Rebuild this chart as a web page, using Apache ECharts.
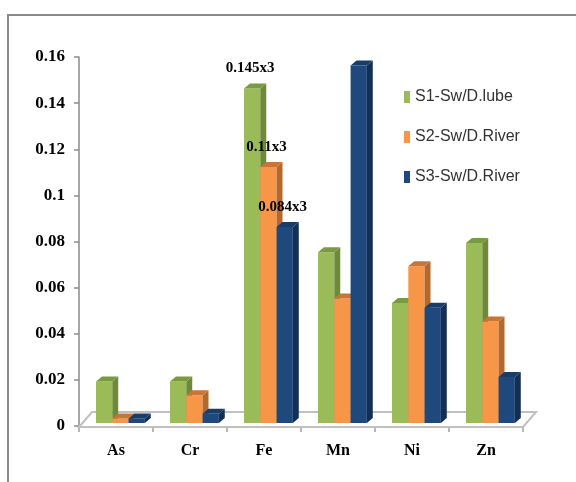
<!DOCTYPE html>
<html>
<head>
<meta charset="utf-8">
<script src="https://cdn.jsdelivr.net/npm/echarts@6/dist/echarts.min.js"></script>
<style>
html,body{margin:0;padding:0;background:#fff;}
#chart{width:576px;height:482px;}
</style>
</head>
<body>
<div id="chart"></div>
<script>
// ---- data ----
var categories = ['As', 'Cr', 'Fe', 'Mn', 'Ni', 'Zn'];
var seriesNames = ['S1-Sw/D.lube', 'S2-Sw/D.River', 'S3-Sw/D.River'];
var s1Values = [0.018, 0.018, 0.145, 0.074, 0.052, 0.078];
var s2Values = [0.002, 0.012, 0.111, 0.054, 0.068, 0.044];
var s3Values = [0.002, 0.004, 0.085, 0.155, 0.050, 0.020];
var s1Labels = ['', '', '0.145x3', '', '', ''];
var s2Labels = ['', '', '0.11x3', '', '', ''];
var s3Labels = ['', '', '0.084x3', '', '', ''];
var yTicks = [0, 0.02, 0.04, 0.06, 0.08, 0.1, 0.12, 0.14, 0.16];

// ---- styles ----
var faceColors = ['#9BBB59', '#F79646', '#1F497D'];
var sideColors = ['#6E8A38', '#B5682C', '#142F55'];
var topColors  = ['#7A9A3F', '#C8753A', '#1A3C68'];

var serifFont = '"Liberation Serif", "Times New Roman", serif';
var narrowFont = '"Liberation Sans Narrow", "Liberation Sans", Arial, sans-serif';

function makeBarRenderer(k, labels) {
  return function (params, api) {
    var ci = api.value(0);
    var val = api.value(1);
    var band = api.size([1, 0])[0];
    var base = api.coord([ci, 0]);
    var top = api.coord([ci, val]);
    var lift = 3;
    var w = band * 0.22;
    var dx = band * 0.08;
    var dy = 5;
    var x0 = base[0] - band * 0.27 + k * w;
    var y0 = base[1] - lift;
    var y1 = top[1] - lift;
    var children = [
      {type: 'rect', shape: {x: x0, y: y1, width: w, height: y0 - y1},
       style: {fill: faceColors[k]}},
      {type: 'polygon', shape: {points: [[x0 + w, y1], [x0 + w + dx, y1 - dy], [x0 + w + dx, y0 - dy], [x0 + w, y0]]},
       style: {fill: sideColors[k]}},
      {type: 'polygon', shape: {points: [[x0, y1], [x0 + dx, y1 - dy], [x0 + w + dx, y1 - dy], [x0 + w, y1]]},
       style: {fill: topColors[k]}}
    ];
    var lab = labels[params.dataIndex];
    if (lab) {
      children.push({type: 'text', z2: 100, style: {
        text: lab, x: x0 + w / 2 - 2, y: y1 - 20,
        align: 'center', verticalAlign: 'middle',
        font: 'bold 15px ' + serifFont, fill: '#000'
      }});
    }
    return {type: 'group', children: children};
  };
}

function floorRenderer(params, api) {
  var band = api.size([1, 0])[0];
  var base = api.coord([0, 0]);
  var L = base[0] - band / 2;
  var R = L + band * categories.length;
  var yf = base[1] + 1;
  var yb = base[1] - 14;
  var d = 13;
  return {type: 'polygon', silent: true,
    shape: {points: [[L, yf], [L + d, yb], [R + d, yb], [R, yf]]},
    style: {fill: '#ffffff', stroke: '#c0c0c0', lineWidth: 2}};
}

function toData(vals) { return vals.map(function (v, i) { return [i, v]; }); }

var chart = echarts.init(document.getElementById('chart'), null, {renderer: 'canvas'});
var option = {
  backgroundColor: '#ffffff',
  animation: false,
  graphic: [{
    type: 'rect', silent: true, z: -10,
    shape: {x: 8, y: 15, width: 640, height: 560},
    style: {fill: 'none', stroke: '#8a8a8a', lineWidth: 2}
  }],
  grid: {left: 79, right: 53, top: 57, bottom: 56},
  legend: {
    orient: 'vertical', left: 404, top: 88, padding: 0,
    itemWidth: 6, itemHeight: 12, itemGap: 22,
    icon: 'rect',
    data: seriesNames,
    textStyle: {fontFamily: narrowFont, fontSize: 16, color: '#333', lineHeight: 18}
  },
  xAxis: {
    type: 'category', data: categories,
    axisLine: {show: true, lineStyle: {color: '#c0c0c0', width: 2}},
    axisTick: {show: true, length: 6, lineStyle: {color: '#a0a0a0', width: 1.5}},
    axisLabel: {margin: 17, fontFamily: serifFont, fontWeight: 'bold', fontSize: 16, color: '#000'},
    splitLine: {show: false}
  },
  yAxis: {
    type: 'value', min: yTicks[0], max: yTicks[yTicks.length - 1], interval: yTicks[1] - yTicks[0],
    axisLine: {show: true, lineStyle: {color: '#8a8a8a', width: 1.5}},
    axisTick: {show: true, length: 5, lineStyle: {color: '#8a8a8a', width: 1.5}},
    axisLabel: {margin: 14, fontFamily: serifFont, fontWeight: 'bold', fontSize: 17, color: '#000'},
    splitLine: {show: false}
  },
  series: [
    {type: 'custom', name: 'floor', silent: true, data: [[0, 0]], encode: {x: 0, y: 1},
     renderItem: floorRenderer, z: 1},
    {type: 'custom', name: seriesNames[0], itemStyle: {color: faceColors[0]}, data: toData(s1Values),
     encode: {x: 0, y: 1}, renderItem: makeBarRenderer(0, s1Labels), z: 2},
    {type: 'custom', name: seriesNames[1], itemStyle: {color: faceColors[1]}, data: toData(s2Values),
     encode: {x: 0, y: 1}, renderItem: makeBarRenderer(1, s2Labels), z: 3},
    {type: 'custom', name: seriesNames[2], itemStyle: {color: faceColors[2]}, data: toData(s3Values),
     encode: {x: 0, y: 1}, renderItem: makeBarRenderer(2, s3Labels), z: 4}
  ]
};
chart.setOption(option);
</script>
</body>
</html>
